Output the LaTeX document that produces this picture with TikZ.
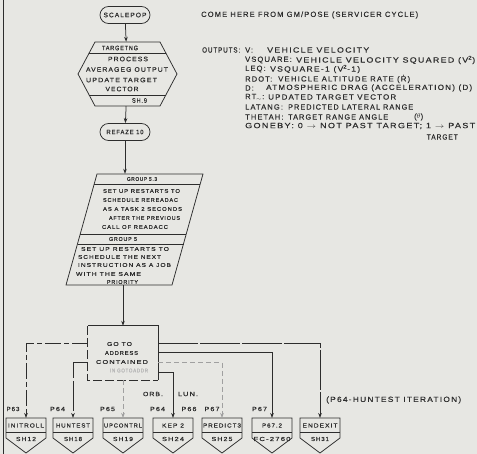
\documentclass[tikz,border=0pt]{standalone}
\usepackage{fontspec}
\newfontfamily\lettering[LetterSpace=15,FakeBold=0.4]{Liberation Sans}
\usetikzlibrary{arrows.meta,calc}
\definecolor{paper}{RGB}{231,231,227}
\definecolor{ink}{RGB}{45,45,45}

% stencil lettering set to a given width (keeps the natural height)
\newcommand\fw[2]{\resizebox{#1pt}{\height}{#2}}

% off-page connector box: name, x position, routine name, its width, sheet reference, its width
\newcommand\sheetbox[6]{%
  \node[inner sep=0pt,minimum width=40pt,minimum height=35pt,anchor=north] (#1) at (#2,418) {};
  \draw[ln] (#2-20,418) -- (#2+20,418) -- (#2+20,438) -- (#2,453) -- (#2-20,438) -- cycle;
  \draw[ln] (#2-20,432) -- (#2+20,432);
  \node[boxtext] at (#2,425.5) {\fw{#4}{#3}};
  \node[boxtext] at (#2,439) {\fw{#6}{#5}};
}

\begin{document}
\begin{tikzpicture}[x=1pt,y=-1pt,
  ln/.style={draw=ink,line width=0.75pt},
  arr/.style={ln,-{Stealth[length=5pt,width=3.6pt]}},
  broken/.style={dash pattern=on 16pt off 3pt on 5pt off 3pt},
  faint/.style={draw=ink!45,dash pattern=on 5pt off 3pt},
  lab/.style={text=ink,inner sep=0pt,font=\lettering\fontsize{7.5}{8}\selectfont},
  hextext/.style={lab,font=\lettering\fontsize{6.5}{7}\selectfont},
  paratext/.style={lab,font=\lettering\fontsize{5.5}{6}\selectfont},
  boxtext/.style={lab,font=\lettering\fontsize{5.8}{6}\selectfont},
  small/.style={lab,font=\lettering\fontsize{6}{7}\selectfont},
  terminal/.style={ln,rectangle,rounded corners=8.5pt,minimum width=50pt,
    minimum height=17pt,inner sep=0pt,text=ink,font=\lettering\fontsize{6.5}{7}\selectfont},
  anchorbox/.style={inner sep=0pt}
]
\fill[paper] (0,0) rectangle (477,454);
\useasboundingbox (0,0) rectangle (477,454);

% page edge rule
\draw[ln] (3,0) -- (3,454);

% ---- main chain ----
\node[terminal] (scalepop) at (125,15) {\fw{43}{SCALEPOP}};

\node[anchorbox,minimum width=99pt,minimum height=64pt] (targeting) at (127.5,74) {};
\draw[ln] (95,42) -- (160,42) -- (177,74) -- (160,106) -- (95,106) -- (78,74) -- cycle;
\draw[ln] (89.2,53) -- (165.8,53);
\draw[ln] (89.2,95) -- (165.8,95);
\node[hextext] at (120,48) {\fw{36}{TARGETNG}};
\node[hextext] at (128,59) {\fw{40}{PROCESS}};
\node[hextext] at (127,69.5) {\fw{82}{AVERAGEG OUTPUT}};
\node[hextext] at (121.5,80) {\fw{71}{UPDATE TARGET}};
\node[hextext] at (122,89) {\fw{33}{VECTOR}};
\node[hextext] at (139.5,100.5) {\fw{15}{SH.9}};

\node[terminal] (refaze) at (125,132) {\fw{37}{REFAZE 10}};

\node[anchorbox,minimum width=106pt,minimum height=111pt] (restarts) at (134.5,229.5) {};
\draw[ln] (97,174) -- (203,174) -- (172,285) -- (66,285) -- cycle;
\draw[ln] (94.2,184) -- (200.2,184);
\draw[ln] (80.2,234) -- (186.2,234);
\draw[ln] (77.5,244) -- (183.5,244);
\node[paratext] at (142,179) {\fw{30}{GROUP 5.3}};
\node[paratext] at (141.5,191) {\fw{77}{SET UP RESTARTS TO}};
\node[paratext] at (140.5,200) {\fw{75}{SCHEDULE REREADAC}};
\node[paratext] at (142.5,209) {\fw{79}{AS A TASK 2 SECONDS}};
\node[paratext] at (144.5,218) {\fw{71}{AFTER THE PREVIOUS}};
\node[paratext] at (135,227) {\fw{66}{CALL OF READACC}};
\node[paratext] at (123,239) {\fw{28}{GROUP 5}};
\node[paratext] at (125,249) {\fw{88}{SET UP RESTARTS TO}};
\node[paratext] at (119.5,257) {\fw{83}{SCHEDULE THE NEXT}};
\node[paratext] at (124.5,265) {\fw{93}{INSTRUCTION AS A JOB}};
\node[paratext] at (108.5,274) {\fw{65}{WITH THE SAME}};
\node[paratext] at (122.5,282) {\fw{31}{PRIORITY}};

\node[anchorbox,minimum width=70pt,minimum height=54pt] (goto) at (123,353) {};
\draw[ln] (goto.south east) -- (goto.north east) -- (goto.north west);
\draw[ln,dash pattern=on 9pt off 3pt] (goto.north west) -- (goto.south west) -- (goto.south east);
\node[paratext] at (119.5,344) {\fw{25}{GO TO}};
\node[paratext] at (121.5,353) {\fw{33}{ADDRESS}};
\node[paratext] at (122,362) {\fw{52}{CONTAINED}};
\node[paratext,text=ink!35] at (129,370.5) {\fw{38}{IN GOTOADDR}};

\draw[arr] (scalepop) -- (targeting);
\draw[arr] (targeting) -- (refaze);
\draw[arr] (refaze.south) -- (refaze.south |- restarts.north);
\draw[arr] (goto.north |- restarts.south) -- (goto.north);

% ---- off-page connectors ----
\sheetbox{initroll}{26}{INITROLL}{36}{SH12}{20}
\sheetbox{huntest}{73}{HUNTEST}{34}{SH18}{18}
\sheetbox{upcontrl}{123}{UPCONTRL}{38}{SH19}{20}
\sheetbox{kep}{173}{KEP 2}{22}{SH24}{22}
\sheetbox{predict}{222}{PREDICT3}{38}{SH25}{21}
\sheetbox{pseven}{272}{P67.2}{20}{FC-2760}{37}
\sheetbox{endexit}{320}{ENDEXIT}{35}{SH31}{18}

\draw[arr,broken] ([yshift=-18pt]goto.north west) -| (initroll.north);
\draw[arr,dash pattern=on 30pt off 3pt] ([yshift=-37pt]goto.north west) -| (huntest.north);
\draw[arr,faint] (goto.south) -- (upcontrl.north);
\draw[arr] ([yshift=-47pt]goto.north east) -| (kep.north);
\draw[arr,faint] ([yshift=-37pt]goto.north east) -| (predict.north);
\draw[arr] ([yshift=-27pt]goto.north east) -| (pseven.north);
\draw[arr,dash pattern=on 40pt off 2pt] ([yshift=-18pt]goto.north east) -| (endexit.north);

\node[small] at (13,409) {\fw{13}{P63}};
\node[small] at (57.5,409) {\fw{15}{P64}};
\node[small] at (107.5,409) {\fw{15}{P65}};
\node[small] at (157.5,409) {\fw{15}{P64}};
\node[small] at (189,409) {\fw{15}{P66}};
\node[small] at (212,409) {\fw{15}{P67}};
\node[small] at (259.5,409) {\fw{15}{P67}};
\node[small] at (153,394) {\fw{20}{ORB.}};
\node[small] at (188,394) {\fw{20}{LUN.}};
\node[lab,anchor=west] at (326,400) {\fw{135}{(P64-HUNTEST ITERATION)}};

% ---- notes ----
\node[lab,anchor=west] at (201,15) {\fw{217}{COME HERE FROM GM/POSE (SERVICER CYCLE)}};
\node[lab,anchor=west] at (202,50) {\fw{38}{OUTPUTS:}};
\node[lab,anchor=west] at (245,50) {V:};
\node[lab,anchor=west] at (267,50) {\fw{102}{VEHICLE VELOCITY}};
\node[lab,anchor=west] at (245,60) {VSQUARE:};
\node[lab,anchor=west] at (296,60) {\fw{179}{VEHICLE VELOCITY SQUARED (V\textsuperscript{2})}};
\node[lab,anchor=west] at (245,69) {LEQ:};
\node[lab,anchor=west] at (270,69) {\fw{90}{VSQUARE-1 (V\textsuperscript{2}-1)}};
\node[lab,anchor=west] at (245,79) {RDOT:};
\node[lab,anchor=west] at (278,79) {\fw{132}{VEHICLE ALTITUDE RATE (\.{R})}};
\node[lab,anchor=west] at (245,88) {D:};
\node[lab,anchor=west] at (266,88) {\fw{206}{ATMOSPHERIC DRAG (ACCELERATION) (D)}};
\node[lab,anchor=west] at (245,97) {RT$_{\sim}$:};
\node[lab,anchor=west] at (268,97) {\fw{128}{UPDATED TARGET VECTOR}};
\node[lab,anchor=west] at (245,107) {LATANG:};
\node[lab,anchor=west] at (288,107) {\fw{125}{PREDICTED LATERAL RANGE}};
\node[lab,anchor=west] at (245,117) {THETAH:};
\node[lab,anchor=west] at (288,117) {\fw{100}{TARGET RANGE ANGLE}};
\node[lab,anchor=west] at (414,117) {($\theta$)};
\node[lab,anchor=west] at (245,126) {\fw{230}{GONEBY: 0 $\to$ NOT PAST TARGET; 1 $\to$ PAST}};
\node[lab,anchor=east] at (458,137) {\fw{31}{TARGET}};
\end{tikzpicture}
\end{document}
